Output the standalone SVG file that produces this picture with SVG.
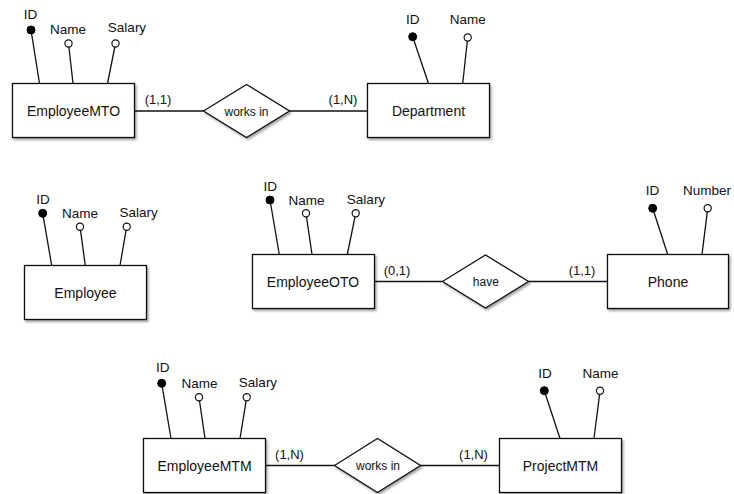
<svg xmlns="http://www.w3.org/2000/svg" width="734" height="494" viewBox="0 0 734 494">
  <defs>
    <filter id="shadow" x="-10%" y="-10%" width="125%" height="130%">
      <feDropShadow dx="1.5" dy="2" stdDeviation="1.2" flood-color="#000" flood-opacity="0.35"/>
    </filter>
  </defs>
  <style>
    .entity { fill: #fff; stroke: #111; stroke-width: 1.3; filter: url(#shadow); }
    .rel { fill: #fff; stroke: #111; stroke-width: 1.3; filter: url(#shadow); }
    .link { stroke: #111; stroke-width: 1.3; fill: none; }
    .key { fill: #000; stroke: #000; stroke-width: 1; }
    .attr { fill: #fff; stroke: #111; stroke-width: 1.2; }
    text { font-family: "Liberation Sans", Arial, Helvetica, sans-serif; fill: #111; text-anchor: middle; }
    .lbl { font-size: 14px; }
    .alb { font-size: 13.5px; }
    .rlb { font-size: 12px; }
    .card { font-size: 13px; }
  </style>

  <!-- relationship connectors with cardinalities -->
  <g id="connectors">
    <line class="link" x1="134.5" y1="111" x2="203.5" y2="111"/>
    <line class="link" x1="289.5" y1="111" x2="367.5" y2="111"/>
    <text class="card" x="158" y="104">(1,1)</text>
    <text class="card" x="343" y="104">(1,N)</text>

    <line class="link" x1="374.5" y1="281.5" x2="442.5" y2="281.5"/>
    <line class="link" x1="528.5" y1="281.5" x2="607.5" y2="281.5"/>
    <text class="card" x="397" y="275">(0,1)</text>
    <text class="card" x="582" y="275">(1,1)</text>

    <line class="link" x1="265.5" y1="465.5" x2="334.5" y2="465.5"/>
    <line class="link" x1="420.5" y1="465.5" x2="499.5" y2="465.5"/>
    <text class="card" x="289.5" y="459">(1,N)</text>
    <text class="card" x="473.5" y="459">(1,N)</text>
  </g>

  <!-- EmployeeMTO -->
  <g id="employee-mto">
    <line class="link" x1="31" y1="30" x2="39.5" y2="83.5"/>
    <line class="link" x1="68.5" y1="43.5" x2="73" y2="83.5"/>
    <line class="link" x1="115.5" y1="43.5" x2="107.5" y2="83.5"/>
    <circle class="key" cx="31" cy="30" r="4"/>
    <circle class="attr" cx="68.5" cy="43.5" r="3.6"/>
    <circle class="attr" cx="115.5" cy="43.5" r="3.6"/>
    <text class="alb" x="30.5" y="19">ID</text>
    <text class="alb" x="68" y="34">Name</text>
    <text class="alb" x="127" y="32">Salary</text>
    <rect class="entity" x="12.5" y="83.5" width="122" height="54"/>
    <text class="lbl" x="73.5" y="116">EmployeeMTO</text>
  </g>

  <!-- works in (EmployeeMTO - Department) -->
  <g id="works-in-mto">
    <polygon class="rel" points="203.5,111 246.5,84.5 289.5,111 246.5,137.5"/>
    <text class="rlb" x="246.5" y="115.5">works in</text>
  </g>

  <!-- Department -->
  <g id="department">
    <line class="link" x1="412.7" y1="36.7" x2="428.5" y2="83.5"/>
    <line class="link" x1="467.7" y1="37.5" x2="462.7" y2="83.5"/>
    <circle class="key" cx="412.7" cy="36.7" r="4"/>
    <circle class="attr" cx="467.7" cy="37.5" r="3.6"/>
    <text class="alb" x="412.7" y="24">ID</text>
    <text class="alb" x="467.7" y="24">Name</text>
    <rect class="entity" x="367.5" y="83.5" width="122" height="54"/>
    <text class="lbl" x="428.5" y="116">Department</text>
  </g>

  <!-- Employee -->
  <g id="employee">
    <line class="link" x1="42.7" y1="213.3" x2="51.7" y2="265.5"/>
    <line class="link" x1="80" y1="226.7" x2="85.3" y2="265.5"/>
    <line class="link" x1="126.7" y1="226.7" x2="120" y2="265.5"/>
    <circle class="key" cx="42.7" cy="213.3" r="4"/>
    <circle class="attr" cx="80" cy="226.7" r="3.6"/>
    <circle class="attr" cx="126.7" cy="226.7" r="3.6"/>
    <text class="alb" x="43" y="204">ID</text>
    <text class="alb" x="80" y="218.3">Name</text>
    <text class="alb" x="138.7" y="217">Salary</text>
    <rect class="entity" x="24.5" y="265.5" width="122" height="54"/>
    <text class="lbl" x="85.5" y="298">Employee</text>
  </g>

  <!-- EmployeeOTO -->
  <g id="employee-oto">
    <line class="link" x1="270" y1="200" x2="279.3" y2="254.5"/>
    <line class="link" x1="306" y1="213.3" x2="312" y2="254.5"/>
    <line class="link" x1="355.7" y1="213.3" x2="347.3" y2="254.5"/>
    <circle class="key" cx="270" cy="200" r="4"/>
    <circle class="attr" cx="306" cy="213.3" r="3.6"/>
    <circle class="attr" cx="355.7" cy="213.3" r="3.6"/>
    <text class="alb" x="270.3" y="190.7">ID</text>
    <text class="alb" x="306.5" y="205">Name</text>
    <text class="alb" x="366" y="203.5">Salary</text>
    <rect class="entity" x="252.5" y="254.5" width="122" height="54"/>
    <text class="lbl" x="313" y="286.5">EmployeeOTO</text>
  </g>

  <!-- have (EmployeeOTO - Phone) -->
  <g id="have">
    <polygon class="rel" points="442.5,281.5 485.5,255 528.5,281.5 485.5,308"/>
    <text class="rlb" x="485.8" y="286">have</text>
  </g>

  <!-- Phone -->
  <g id="phone">
    <line class="link" x1="652.7" y1="208.3" x2="667.7" y2="254.5"/>
    <line class="link" x1="707.7" y1="208.3" x2="702" y2="254.5"/>
    <circle class="key" cx="652.7" cy="208.3" r="4"/>
    <circle class="attr" cx="707.7" cy="208.3" r="3.6"/>
    <text class="alb" x="652.5" y="195">ID</text>
    <text class="alb" x="707" y="195">Number</text>
    <rect class="entity" x="607.5" y="254.5" width="121" height="54"/>
    <text class="lbl" x="668" y="286.5">Phone</text>
  </g>

  <!-- EmployeeMTM -->
  <g id="employee-mtm">
    <line class="link" x1="161.7" y1="383.3" x2="171" y2="438.5"/>
    <line class="link" x1="199" y1="397.3" x2="205" y2="438.5"/>
    <line class="link" x1="246.7" y1="397.3" x2="240" y2="438.5"/>
    <circle class="key" cx="161.7" cy="383.3" r="4"/>
    <circle class="attr" cx="199" cy="397.3" r="3.6"/>
    <circle class="attr" cx="246.7" cy="397.3" r="3.6"/>
    <text class="alb" x="162.7" y="372.3">ID</text>
    <text class="alb" x="199.5" y="388">Name</text>
    <text class="alb" x="258" y="386.5">Salary</text>
    <rect class="entity" x="143.5" y="438.5" width="122" height="54"/>
    <text class="lbl" x="204.5" y="471">EmployeeMTM</text>
  </g>

  <!-- works in (EmployeeMTM - ProjectMTM) -->
  <g id="works-in-mtm">
    <polygon class="rel" points="334.5,465.5 377.5,438.5 420.5,465.5 377.5,492.5"/>
    <text class="rlb" x="378" y="470">works in</text>
  </g>

  <!-- ProjectMTM -->
  <g id="project-mtm">
    <line class="link" x1="544.3" y1="390.7" x2="560" y2="438.5"/>
    <line class="link" x1="600" y1="390.7" x2="594" y2="438.5"/>
    <circle class="key" cx="544.3" cy="390.7" r="4"/>
    <circle class="attr" cx="600" cy="390.7" r="3.6"/>
    <text class="alb" x="545" y="377.5">ID</text>
    <text class="alb" x="600.5" y="377.5">Name</text>
    <rect class="entity" x="499.5" y="438.5" width="122" height="54"/>
    <text class="lbl" x="560.5" y="471">ProjectMTM</text>
  </g>
</svg>
